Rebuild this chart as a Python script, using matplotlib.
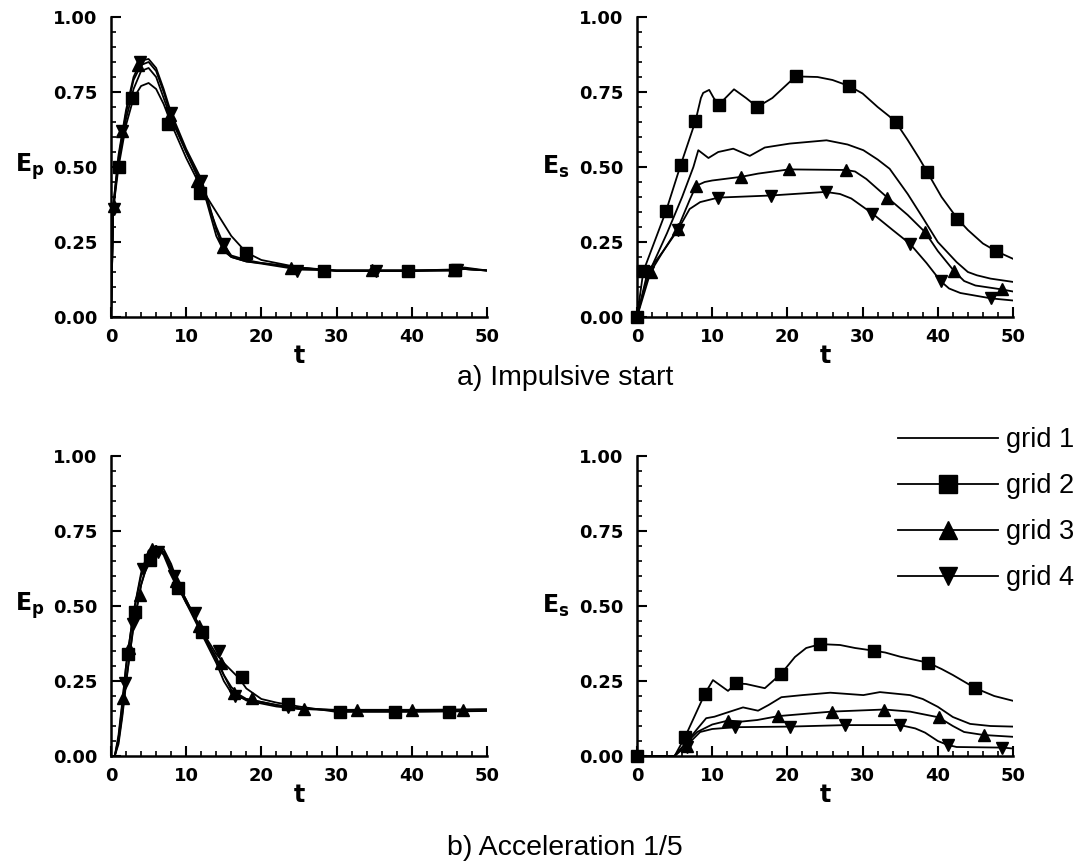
import numpy as np
import matplotlib.pyplot as plt

plt.rcParams['font.family'] = ['Liberation Sans', 'DejaVu Sans']

# ---- a) impulsive start, E_p ----
a_p_t = [0, 0.3, 1, 2, 3, 4, 5, 6, 7, 8, 10, 12, 13, 14, 15, 16, 18, 20, 25, 30, 40, 45, 47, 50]
a_p_g1 = [0, 0.36, 0.52, 0.66, 0.76, 0.82, 0.83, 0.80, 0.73, 0.66, 0.55, 0.44, 0.37, 0.30, 0.24, 0.205,
          0.19, 0.18, 0.165, 0.155, 0.155, 0.155, 0.16, 0.155]
a_p_g2 = [0, 0.36, 0.50, 0.64, 0.73, 0.77, 0.78, 0.76, 0.71, 0.645, 0.53, 0.43, 0.39, 0.35, 0.31, 0.27,
          0.215, 0.19, 0.165, 0.153, 0.153, 0.155, 0.165, 0.155]
a_p_g3 = [0, 0.37, 0.53, 0.68, 0.79, 0.84, 0.85, 0.82, 0.75, 0.67, 0.55, 0.45, 0.36, 0.27, 0.22, 0.20,
          0.185, 0.18, 0.163, 0.155, 0.155, 0.158, 0.16, 0.155]
a_p_g4 = [0, 0.37, 0.54, 0.69, 0.80, 0.855, 0.86, 0.83, 0.76, 0.68, 0.56, 0.46, 0.38, 0.29, 0.225, 0.20,
          0.185, 0.178, 0.158, 0.155, 0.155, 0.157, 0.16, 0.155]
a_p_sq_t = [1.0, 2.8, 7.6, 11.8, 18.0, 28.3, 39.5, 45.7]
a_p_sq_e = [0.50, 0.73, 0.645, 0.415, 0.214, 0.153, 0.153, 0.157]
a_p_up_t = [0.4, 1.4, 3.6, 7.8, 11.4, 14.9, 24.0, 34.7, 45.6]
a_p_up_e = [0.37, 0.62, 0.84, 0.675, 0.455, 0.235, 0.163, 0.157, 0.158]
a_p_dn_t = [0.4, 1.5, 3.8, 8.0, 12.0, 15.0, 24.7, 35.3, 46.0]
a_p_dn_e = [0.36, 0.62, 0.85, 0.68, 0.455, 0.245, 0.155, 0.153, 0.158]

# ---- a) impulsive start, E_s ----
a_s_g1_t = [0, 1, 2, 4, 6, 7.5, 8.15, 9.5, 10.8, 12.8, 15, 17, 20.3, 25.2, 28, 30.1, 32, 33.6, 36,
            38.1, 40, 42.5, 44, 45.2, 47, 50]
a_s_g1 = [0, 0.10, 0.17, 0.28, 0.40, 0.50, 0.556, 0.53, 0.55, 0.561, 0.537, 0.565, 0.578, 0.589, 0.575,
          0.556, 0.525, 0.494, 0.41, 0.327, 0.25, 0.183, 0.15, 0.139, 0.128, 0.117]
a_s_g2_t = [0, 0.84, 3.86, 5.8, 7.76, 8.5, 8.8, 9.6, 10.2, 10.9, 12.9, 14.5, 16.0, 18, 21.1, 24, 26,
            28.2, 30, 32, 33.5, 34.4, 36, 37.5, 38.6, 40.5, 42.6, 44, 46, 47.8, 50]
a_s_g2 = [0, 0.152, 0.353, 0.506, 0.652, 0.73, 0.747, 0.757, 0.73, 0.708, 0.759, 0.73, 0.70, 0.73,
          0.802, 0.80, 0.79, 0.77, 0.745, 0.70, 0.67, 0.65, 0.59, 0.53, 0.483, 0.40, 0.328, 0.29,
          0.245, 0.219, 0.194]
a_s_g3_t = [0, 1.8, 3.5, 5.4, 7, 7.85, 9, 10, 13.8, 16.1, 20.2, 27.8, 29, 30.5, 33.3, 36, 38.3, 40,
            42.2, 43.5, 45, 48.5, 50]
a_s_g3 = [0, 0.15, 0.22, 0.294, 0.39, 0.437, 0.45, 0.455, 0.467, 0.478, 0.492, 0.49, 0.485, 0.46,
          0.398, 0.34, 0.283, 0.22, 0.152, 0.12, 0.105, 0.092, 0.085]
a_s_g4_t = [0, 1.4, 3.5, 5.4, 7, 8.4, 10.8, 17.8, 25.1, 27, 28.5, 31.3, 34, 36.3, 38.5, 40.4, 41.5,
            43, 47.1, 50]
a_s_g4 = [0, 0.15, 0.22, 0.289, 0.36, 0.383, 0.398, 0.405, 0.417, 0.41, 0.395, 0.345, 0.29, 0.244,
          0.18, 0.119, 0.095, 0.08, 0.062, 0.055]
a_s_sq_t = [0, 0.84, 3.86, 5.8, 7.76, 10.9, 16.0, 21.1, 28.2, 34.4, 38.6, 42.6, 47.8]
a_s_sq_e = [0, 0.152, 0.353, 0.506, 0.652, 0.708, 0.70, 0.802, 0.77, 0.65, 0.483, 0.328, 0.219]
a_s_up_t = [1.8, 5.4, 7.85, 13.8, 20.2, 27.8, 33.3, 38.3, 42.2, 48.5]
a_s_up_e = [0.15, 0.294, 0.437, 0.467, 0.492, 0.49, 0.398, 0.283, 0.152, 0.092]
a_s_dn_t = [1.4, 5.4, 10.8, 17.8, 25.1, 31.3, 36.3, 40.4, 47.1]
a_s_dn_e = [0.15, 0.289, 0.398, 0.405, 0.417, 0.345, 0.244, 0.119, 0.062]

# ---- b) acceleration 1/5, E_p ----
b_p_t = [0, 0.5, 1, 1.5, 2, 3, 4, 5, 6, 7, 8, 9, 10, 11, 12, 13, 14, 15, 16, 17, 18, 20, 22, 25, 30, 40, 50]
b_p_g1 = [0, 0.0, 0.05, 0.14, 0.25, 0.43, 0.57, 0.66, 0.695, 0.69, 0.64, 0.57, 0.52, 0.47, 0.42, 0.37,
          0.32, 0.27, 0.23, 0.205, 0.19, 0.18, 0.17, 0.16, 0.152, 0.152, 0.155]
b_p_g2 = [0, 0.0, 0.04, 0.13, 0.24, 0.44, 0.57, 0.65, 0.68, 0.68, 0.63, 0.565, 0.52, 0.47, 0.42, 0.38,
          0.34, 0.31, 0.285, 0.26, 0.225, 0.19, 0.178, 0.165, 0.147, 0.147, 0.15]
b_p_g3 = [0, 0.0, 0.06, 0.17, 0.30, 0.48, 0.60, 0.68, 0.70, 0.68, 0.62, 0.56, 0.51, 0.46, 0.41, 0.36,
          0.31, 0.25, 0.21, 0.195, 0.19, 0.18, 0.17, 0.157, 0.154, 0.154, 0.155]
b_p_g4 = [0, 0.0, 0.07, 0.18, 0.30, 0.48, 0.61, 0.685, 0.70, 0.67, 0.61, 0.56, 0.51, 0.47, 0.42, 0.37,
          0.33, 0.27, 0.22, 0.20, 0.185, 0.175, 0.165, 0.157, 0.153, 0.153, 0.155]
b_p_sq_t = [2.3, 3.2, 5.2, 8.9, 12.1, 17.4, 23.5, 30.5, 37.8, 44.9]
b_p_sq_e = [0.34, 0.48, 0.655, 0.56, 0.415, 0.262, 0.175, 0.147, 0.147, 0.147]
b_p_up_t = [1.65, 2.4, 3.8, 5.4, 8.6, 11.7, 14.6, 16.3, 18.7, 25.6, 32.7, 40.0, 46.8]
b_p_up_e = [0.192, 0.36, 0.537, 0.69, 0.585, 0.435, 0.31, 0.21, 0.192, 0.157, 0.155, 0.155, 0.155]
b_p_dn_t = [1.8, 2.9, 4.3, 6.2, 8.4, 11.2, 14.3, 16.5, 23.5]
b_p_dn_e = [0.242, 0.44, 0.625, 0.68, 0.60, 0.476, 0.35, 0.20, 0.163]

# ---- b) acceleration 1/5, E_s ----
b_s_g1_t = [0, 5, 6.4, 8, 9.2, 10.3, 12, 14.1, 16.1, 17.5, 19.2, 22, 25.7, 30.1, 32.3, 36.3, 38, 40,
            42, 44.3, 47, 50]
b_s_g1 = [0, 0, 0.04, 0.09, 0.126, 0.131, 0.145, 0.162, 0.151, 0.17, 0.196, 0.203, 0.211, 0.203, 0.213,
          0.203, 0.19, 0.164, 0.13, 0.107, 0.10, 0.098]
b_s_g2_t = [0, 5, 6.4, 9.0, 10.1, 12.1, 13.2, 14.5, 17, 19.2, 21, 22.5, 24.4, 27, 29, 31.5, 33, 35,
            38.7, 40.5, 42, 45, 47.5, 50]
b_s_g2 = [0, 0.0, 0.064, 0.206, 0.253, 0.217, 0.242, 0.24, 0.226, 0.275, 0.33, 0.36, 0.373, 0.37, 0.36,
          0.351, 0.345, 0.331, 0.311, 0.29, 0.27, 0.226, 0.20, 0.184]
b_s_g3_t = [0, 5, 6.4, 8, 10, 12.1, 14, 16, 18.8, 25.9, 32.9, 36.3, 40.1, 42, 43.5, 46.1, 50]
b_s_g3 = [0, 0, 0.04, 0.08, 0.105, 0.118, 0.115, 0.12, 0.133, 0.148, 0.155, 0.148, 0.129, 0.10, 0.08,
          0.07, 0.064]
b_s_g4_t = [0, 5, 6.4, 8.4, 10, 13.0, 20.3, 27.7, 35.0, 37, 38.3, 40, 41.3, 42.5, 48.6, 50]
b_s_g4 = [0, 0, 0.03, 0.08, 0.09, 0.096, 0.098, 0.103, 0.103, 0.092, 0.078, 0.05, 0.037, 0.03, 0.028, 0.025]
b_s_sq_t = [0, 6.4, 9.0, 13.2, 19.2, 24.4, 31.5, 38.7, 45.0]
b_s_sq_e = [0, 0.064, 0.206, 0.242, 0.275, 0.373, 0.351, 0.311, 0.226]
b_s_up_t = [6.6, 12.1, 18.8, 25.9, 32.9, 40.1, 46.1]
b_s_up_e = [0.035, 0.118, 0.133, 0.148, 0.155, 0.129, 0.07]
b_s_dn_t = [6.6, 13.0, 20.3, 27.7, 35.0, 41.3, 48.6]
b_s_dn_e = [0.03, 0.096, 0.098, 0.103, 0.103, 0.037, 0.028]

x_ticks = [0, 10, 20, 30, 40, 50]
y_ticks = [0.0, 0.25, 0.5, 0.75, 1.0]
y_tick_labels = ['0.00', '0.25', '0.50', '0.75', '1.00']
grid_names = ['grid 1', 'grid 2', 'grid 3', 'grid 4']

tick_font = dict(fontfamily='DejaVu Sans', fontweight='bold', fontsize=13)


def panel(ax, lines, marks, ylab):
    """одна панель: 4 кривые + маркеры"""
    for t, e in lines:
        ax.plot(t, e, color='black', lw=1.3)
    for (t, e), m in zip(marks, ['s', '^', 'v']):
        ax.plot(t, e, ls='none', marker=m, ms=8.5, color='black', clip_on=False)
    ax.set_xlim(0, 50)
    ax.set_ylim(0, 1)
    ax.set_xticks(x_ticks, labels=[str(v) for v in x_ticks], **tick_font)
    ax.set_yticks(y_ticks, labels=y_tick_labels, **tick_font)
    ax.set_xticks(np.arange(0, 51, 2), minor=True)
    ax.set_yticks(np.arange(0, 1.001, 0.05), minor=True)
    ax.tick_params(which='major', direction='in', length=7, width=1.5)
    ax.tick_params(which='minor', direction='in', length=3.5, width=1.2)
    ax.tick_params(axis='x', which='major', pad=8)
    ax.tick_params(axis='y', which='major', pad=10)
    for s in ['top', 'right']:
        ax.spines[s].set_visible(False)
    for s in ['left', 'bottom']:
        ax.spines[s].set_linewidth(1.8)
    ax.set_xlabel('t', fontfamily='DejaVu Sans', fontweight='bold', fontsize=17)
    ax.xaxis.set_label_coords(0.5, -0.09)
    ax.set_ylabel(ylab, fontsize=17, rotation=0, va='center', ha='center')
    ax.yaxis.set_label_coords(-0.215, 0.5)


fig = plt.figure(figsize=(10.9, 8.66), dpi=100)
W, H = 1090, 866
ax_w, ax_h = 376 / W, 300 / H
ax1 = fig.add_axes([111 / W, 1 - 317 / H, ax_w, ax_h])
ax2 = fig.add_axes([637 / W, 1 - 317 / H, ax_w, ax_h])
ax3 = fig.add_axes([111 / W, 1 - 756 / H, ax_w, ax_h])
ax4 = fig.add_axes([637 / W, 1 - 756 / H, ax_w, ax_h])

Ep = r'$\mathbf{E_p}$'
Es = r'$\mathbf{E_s}$'

panel(ax1, [(a_p_t, a_p_g1), (a_p_t, a_p_g2), (a_p_t, a_p_g3), (a_p_t, a_p_g4)],
      [(a_p_sq_t, a_p_sq_e), (a_p_up_t, a_p_up_e), (a_p_dn_t, a_p_dn_e)], Ep)
panel(ax2, [(a_s_g1_t, a_s_g1), (a_s_g2_t, a_s_g2), (a_s_g3_t, a_s_g3), (a_s_g4_t, a_s_g4)],
      [(a_s_sq_t, a_s_sq_e), (a_s_up_t, a_s_up_e), (a_s_dn_t, a_s_dn_e)], Es)
panel(ax3, [(b_p_t, b_p_g1), (b_p_t, b_p_g2), (b_p_t, b_p_g3), (b_p_t, b_p_g4)],
      [(b_p_sq_t, b_p_sq_e), (b_p_up_t, b_p_up_e), (b_p_dn_t, b_p_dn_e)], Ep)
panel(ax4, [(b_s_g1_t, b_s_g1), (b_s_g2_t, b_s_g2), (b_s_g3_t, b_s_g3), (b_s_g4_t, b_s_g4)],
      [(b_s_sq_t, b_s_sq_e), (b_s_up_t, b_s_up_e), (b_s_dn_t, b_s_dn_e)], Es)

# легенда
handles = [plt.Line2D([], [], color='black', lw=1.3, marker=m, ms=13) for m in ['', 's', '^', 'v']]
fig.legend(handles, grid_names, loc='upper left', bbox_to_anchor=(898 / W, 1 - 427 / H),
           frameon=False, fontsize=19.5, handlelength=3.7, handletextpad=0.3,
           labelspacing=0.74, borderpad=0, borderaxespad=0)

fig.text(565 / W, 1 - 378 / H, 'a) Impulsive start', fontsize=20.5, ha='center', va='center')
fig.text(565 / W, 1 - 848 / H, 'b) Acceleration 1/5', fontsize=20.5, ha='center', va='center')

fig.savefig('out.png', dpi=100)
